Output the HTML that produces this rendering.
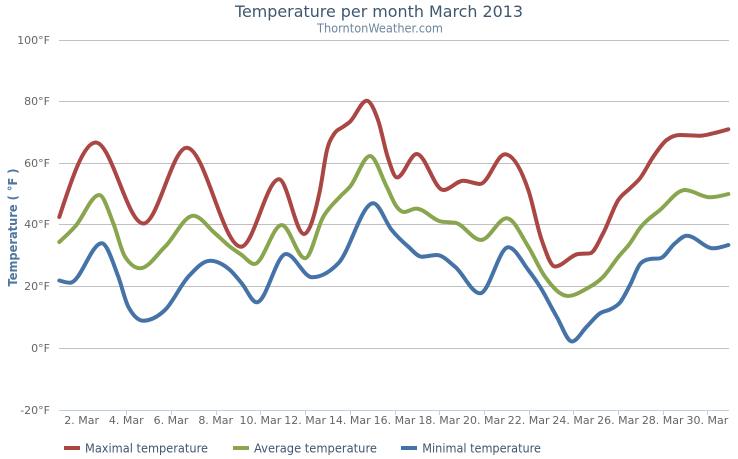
<!DOCTYPE html>
<html>
<head>
<meta charset="utf-8">
<style>
html,body{margin:0;padding:0;background:#fff;}
svg{display:block;}
text{font-family:"DejaVu Sans","Liberation Sans",sans-serif;}
</style>
</head>
<body>
<svg id="c" width="738" height="459" viewBox="0 0 738 459" xmlns="http://www.w3.org/2000/svg">
<rect width="738" height="459" fill="#fff"/>
<!-- title -->
<text x="379" y="17" font-size="16" fill="#3E576F" text-anchor="middle" textLength="288" lengthAdjust="spacingAndGlyphs">Temperature per month March 2013</text>
<text x="380" y="32.5" font-size="12" fill="#6D869F" text-anchor="middle" textLength="126" lengthAdjust="spacingAndGlyphs">ThorntonWeather.com</text>
<!-- grid -->
<g stroke="#C0C0C0" stroke-width="1">
<line x1="59" y1="40.5" x2="729" y2="40.5"/>
<line x1="59" y1="101.5" x2="729" y2="101.5"/>
<line x1="59" y1="163.5" x2="729" y2="163.5"/>
<line x1="59" y1="224.5" x2="729" y2="224.5"/>
<line x1="59" y1="286.5" x2="729" y2="286.5"/>
<line x1="59" y1="348.5" x2="729" y2="348.5"/>
</g>
<line x1="59" y1="410.5" x2="729" y2="410.5" stroke="#C0D0E0" stroke-width="1"/>
<g id="ticks" stroke="#C0D0E0" stroke-width="1"></g>
<!-- y labels -->
<g font-size="11" fill="#666" text-anchor="end">
<text x="50" y="44">100°F</text>
<text x="50" y="105">80°F</text>
<text x="50" y="167">60°F</text>
<text x="50" y="228">40°F</text>
<text x="50" y="290">20°F</text>
<text x="50" y="352">0°F</text>
<text x="50" y="414">-20°F</text>
</g>
<text transform="translate(17,227.5) rotate(-90)" font-size="12" font-weight="bold" fill="#4D759E" text-anchor="middle" textLength="118" lengthAdjust="spacingAndGlyphs">Temperature ( °F )</text>
<g id="xl" font-size="11" fill="#666" text-anchor="middle"></g>
<g id="series" fill="none" stroke-width="4" stroke-linejoin="round" stroke-linecap="round"></g>
<!-- legend -->
<line x1="64" y1="448" x2="80" y2="448" stroke="#AA4643" stroke-width="4"/>
<text x="85" y="452.3" font-size="12" fill="#3E576F" textLength="123" lengthAdjust="spacingAndGlyphs">Maximal temperature</text>
<line x1="233" y1="448" x2="249" y2="448" stroke="#89A54E" stroke-width="4"/>
<text x="254" y="452.3" font-size="12" fill="#3E576F" textLength="123" lengthAdjust="spacingAndGlyphs">Average temperature</text>
<line x1="401" y1="448" x2="417" y2="448" stroke="#4572A7" stroke-width="4"/>
<text x="422.3" y="452.3" font-size="12" fill="#3E576F" textLength="118.7" lengthAdjust="spacingAndGlyphs">Minimal temperature</text>
</svg>
<script>
(function(){
var NS="http://www.w3.org/2000/svg";
var ticks=document.getElementById("ticks"), xl=document.getElementById("xl");
var labels=[[81.6,"2. Mar"]];
for(var k=0;k<14;k++){labels.push([126.3+k*44.7,(4+2*k)+". Mar"]);}
labels.forEach(function(l,i){
  if(i>0){var t=document.createElementNS(NS,"line");var x=Math.round(l[0])+0.5;
  t.setAttribute("x1",x);t.setAttribute("x2",x);t.setAttribute("y1",410);t.setAttribute("y2",415);ticks.appendChild(t);}
  var tx=document.createElementNS(NS,"text");tx.setAttribute("x",l[0]);tx.setAttribute("y",424);tx.textContent=l[1];xl.appendChild(tx);
});
function sign(v){return v<0?-1:1;}
function path(p){
  var n=p.length, t=new Array(n), h=[], s=[];
  for(var i=0;i<n-1;i++){h[i]=p[i+1][0]-p[i][0];s[i]=(p[i+1][1]-p[i][1])/h[i];}
  for(var i=1;i<n-1;i++){
    var s0=s[i-1],s1=s[i],h0=h[i-1],h1=h[i];
    var q=(s0*h1+s1*h0)/(h0+h1);
    t[i]=(sign(s0)+sign(s1))*Math.min(Math.abs(s0),Math.abs(s1),0.5*Math.abs(q))||0;
  }
  t[0]=(3*s[0]-t[1])/2; t[n-1]=(3*s[n-2]-t[n-2])/2;
  var d="M"+p[0][0]+","+p[0][1];
  for(var i=0;i<n-1;i++){
    var dx=h[i]/3;
    d+="C"+(p[i][0]+dx).toFixed(2)+","+(p[i][1]+t[i]*dx).toFixed(2)+" "+(p[i+1][0]-dx).toFixed(2)+","+(p[i+1][1]-t[i+1]*dx).toFixed(2)+" "+p[i+1][0]+","+p[i+1][1];
  }
  return d;
}
var red=[[59.3,217],[95.7,142.5],[143.3,223.5],[186.7,147.7],[241,246.7],[279,179.3],[304,234],[320,190],[327,150],[334,134],[343.3,126.7],[350,121.7],[366.7,100.7],[378,120],[388,158],[397,177.5],[416.7,154],[443.3,190],[463.3,180.7],[480,184],[505,154.3],[528.3,190],[541.7,240],[555,266.5],[578.3,254],[590,253.3],[603.3,233],[618.3,200],[630,188.3],[640,178.3],[653.3,156.7],[666.7,140],[680,135],[700,135.7],[713.3,133.3],[728.3,129.3]];
var green=[[59.3,242],[75,226.7],[99.3,195],[113.3,223.3],[125,256.7],[140,268.3],[165,246.7],[193.3,215.7],[215,233.3],[230,246.7],[241.7,255],[254.3,264],[281.7,225],[305,258.3],[323.3,216.7],[340,196.7],[350,186.7],[370,156],[386.7,186.7],[396.7,206.7],[404,212],[416,208.6],[441.7,221.7],[455,222.7],[481,240],[506.7,218.3],[528.3,246.7],[545,276.7],[568,296],[586,289],[603.3,276.7],[618.3,257],[630,243.3],[640,228],[660,210],[685,190],[710,197.3],[728.3,194]];
var blue=[[59.3,280.5],[70,282.7],[101.7,243.3],[118.3,276.7],[128.3,306.7],[143.3,320.7],[165,310],[188.3,276.7],[210,260.7],[230,270],[241.7,283.3],[256.7,302.3],[286,254],[312.3,277.3],[338.3,263.3],[373.3,203.3],[391.7,230],[408.3,246.7],[421.7,256.7],[436.7,255],[455,266.7],[480,293.3],[508.3,247.3],[528.3,270],[540,286.7],[556.7,316.7],[572,341.5],[586.7,326.7],[600,313.3],[611,309],[620,302.5],[630,285],[641,263],[650,259],[660,258.3],[675,243.3],[686.7,235.7],[713.3,248.3],[728.3,245]];
var g=document.getElementById("series");
[[red,"#AA4643"],[green,"#89A54E"],[blue,"#4572A7"]].forEach(function(s){
  var e=document.createElementNS(NS,"path");e.setAttribute("d",path(s[0]));e.setAttribute("stroke",s[1]);g.appendChild(e);
});
})();
</script>
</body>
</html>
